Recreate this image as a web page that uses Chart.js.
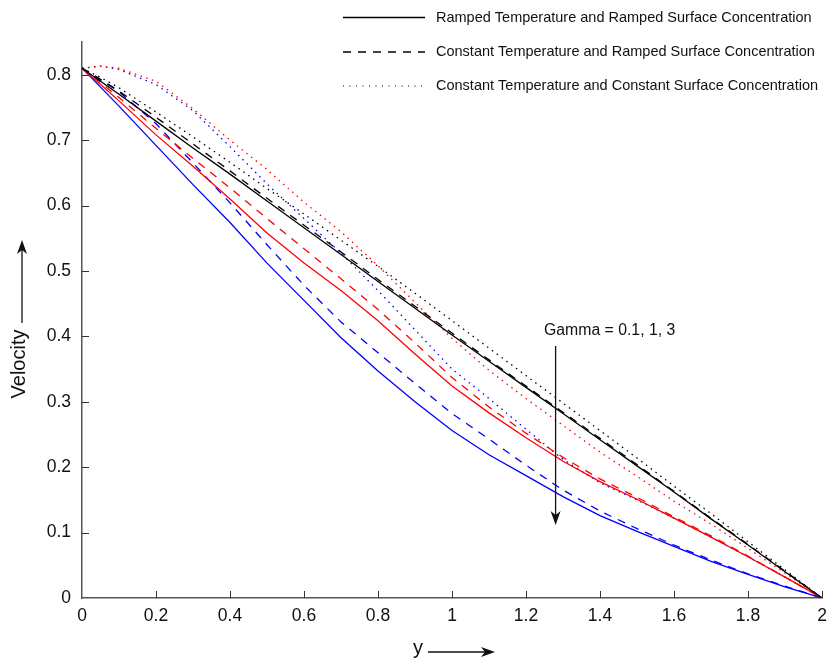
<!DOCTYPE html>
<html>
<head>
<meta charset="utf-8">
<script src="https://cdn.jsdelivr.net/npm/chart.js@4"></script>
<style>
  html, body { margin: 0; padding: 0; background: #fff; }
  #wrap { width: 831px; height: 660px; }
</style>
</head>
<body>
<div id="wrap"><canvas id="velChart" width="831" height="660"></canvas></div>
<script>
// distance y
const yDist = [0, 0.05, 0.1, 0.2, 0.3, 0.4, 0.5, 0.6, 0.7, 0.8, 0.9, 1.0,
  1.1, 1.2, 1.3, 1.4, 1.5, 1.6, 1.7, 1.8, 1.9, 2.0];

// Ramped temperature, ramped surface concentration (solid)
const rampRamp_g01 = [0.81, 0.790, 0.770, 0.729, 0.688, 0.648, 0.607, 0.566, 0.525, 0.484, 0.443, 0.402,
  0.362, 0.322, 0.282, 0.242, 0.202, 0.162, 0.121, 0.081, 0.040, 0];
const rampRamp_g1 = [0.81, 0.785, 0.760, 0.708, 0.660, 0.610, 0.558, 0.512, 0.470, 0.424, 0.373, 0.324,
  0.283, 0.245, 0.209, 0.178, 0.151, 0.122, 0.093, 0.063, 0.032, 0];
const rampRamp_g3 = [0.81, 0.781, 0.752, 0.692, 0.632, 0.574, 0.512, 0.455, 0.398, 0.347, 0.300, 0.256,
  0.219, 0.187, 0.155, 0.126, 0.102, 0.079, 0.056, 0.036, 0.017, 0];

// Constant temperature, ramped surface concentration (dashed)
const constRamp_g01 = [0.81, 0.793, 0.775, 0.735, 0.694, 0.653, 0.611, 0.570, 0.529, 0.487, 0.446, 0.405,
  0.364, 0.324, 0.284, 0.244, 0.204, 0.163, 0.122, 0.082, 0.041, 0];
const constRamp_g1 = [0.81, 0.788, 0.765, 0.718, 0.672, 0.627, 0.580, 0.534, 0.488, 0.441, 0.390, 0.337,
  0.292, 0.252, 0.215, 0.182, 0.154, 0.124, 0.095, 0.064, 0.032, 0];
const constRamp_g3 = [0.81, 0.792, 0.774, 0.725, 0.665, 0.604, 0.540, 0.478, 0.422, 0.375, 0.328, 0.282,
  0.243, 0.203, 0.165, 0.133, 0.106, 0.081, 0.058, 0.037, 0.018, 0];

// Constant temperature, constant surface concentration (dotted)
const constConst_g01 = [0.81, 0.796, 0.780, 0.743, 0.705, 0.666, 0.626, 0.587, 0.547, 0.507, 0.466, 0.424,
  0.382, 0.340, 0.298, 0.256, 0.214, 0.171, 0.129, 0.086, 0.043, 0];
const constConst_g1 = [0.81, 0.813, 0.810, 0.790, 0.748, 0.700, 0.655, 0.605, 0.560, 0.508, 0.452, 0.397,
  0.348, 0.305, 0.264, 0.223, 0.186, 0.148, 0.113, 0.076, 0.038, 0];
const constConst_g3 = [0.81, 0.813, 0.808, 0.785, 0.745, 0.690, 0.633, 0.580, 0.527, 0.470, 0.410, 0.350,
  0.305, 0.258, 0.212, 0.176, 0.150, 0.122, 0.093, 0.063, 0.032, 0];

const caseNames = [
  "Ramped Temperature and Ramped Surface Concentration",
  "Constant Temperature and Ramped Surface Concentration",
  "Constant Temperature and Constant Surface Concentration"
];
const gammaText = "Gamma = 0.1, 1, 3";

const FONT = "'Liberation Sans', Arial, sans-serif";
const gammaColors = ["#000000", "#ff0000", "#0000ff"];
const caseDash = [[], [8, 7], [1.5, 4.5]];
const caseSeries = [
  [rampRamp_g01, rampRamp_g1, rampRamp_g3],
  [constRamp_g01, constRamp_g1, constRamp_g3],
  [constConst_g01, constConst_g1, constConst_g3]
];

const datasets = [];
caseSeries.forEach((group, c) => {
  group.forEach((vals, g) => {
    datasets.push({
      label: caseNames[c] + " " + g,
      data: vals.map((v, i) => ({ x: yDist[i], y: v })),
      borderColor: gammaColors[g],
      borderDash: caseDash[c],
      borderWidth: 1.3,
      pointRadius: 0,
      fill: false,
      tension: 0
    });
  });
});

function arrowHead(ctx, x, y, dir) {
  ctx.beginPath();
  if (dir === "down") {
    ctx.moveTo(x, y); ctx.lineTo(x - 5, y - 14); ctx.lineTo(x, y - 10); ctx.lineTo(x + 5, y - 14);
  } else if (dir === "up") {
    ctx.moveTo(x, y); ctx.lineTo(x - 5, y + 14); ctx.lineTo(x, y + 10); ctx.lineTo(x + 5, y + 14);
  } else {
    ctx.moveTo(x, y); ctx.lineTo(x - 14, y - 5); ctx.lineTo(x - 10, y); ctx.lineTo(x - 14, y + 5);
  }
  ctx.closePath();
  ctx.fill();
}

const decorations = {
  id: "decorations",
  afterDraw(chart) {
    const { ctx, chartArea, scales } = chart;
    const xs = scales.x, ys = scales.y;
    ctx.save();

    // inward ticks
    ctx.strokeStyle = "#333";
    ctx.lineWidth = 1;
    ys.ticks.forEach(t => {
      if (t.value === 0) return;
      const py = Math.round(ys.getPixelForValue(t.value)) + 0.5;
      ctx.beginPath(); ctx.moveTo(chartArea.left, py); ctx.lineTo(chartArea.left + 7, py); ctx.stroke();
    });
    xs.ticks.forEach(t => {
      if (t.value === 0) return;
      const px = Math.round(xs.getPixelForValue(t.value)) + 0.5;
      ctx.beginPath(); ctx.moveTo(px, chartArea.bottom); ctx.lineTo(px, chartArea.bottom - 7); ctx.stroke();
    });

    // legend (black entries only)
    ctx.font = "14.5px " + FONT;
    ctx.textBaseline = "middle";
    ctx.textAlign = "left";
    const rows = [17.5, 52, 86];
    caseNames.forEach((name, i) => {
      ctx.strokeStyle = "#000";
      ctx.lineWidth = i === 2 ? 1 : 1.3;
      ctx.setLineDash(i === 2 ? [1, 5.5] : caseDash[i]);
      ctx.beginPath(); ctx.moveTo(343, rows[i]); ctx.lineTo(425, rows[i]); ctx.stroke();
      ctx.setLineDash([]);
      ctx.fillStyle = "#111";
      ctx.fillText(name, 436, rows[i]);
    });

    // gamma annotation
    ctx.fillStyle = "#111";
    ctx.font = "15.8px " + FONT;
    ctx.textBaseline = "alphabetic";
    ctx.fillText(gammaText, 544, 335);
    const ax = xs.getPixelForValue(1.28);
    ctx.strokeStyle = "#111";
    ctx.lineWidth = 1.3;
    ctx.beginPath(); ctx.moveTo(ax, 346); ctx.lineTo(ax, 515); ctx.stroke();
    arrowHead(ctx, ax, 525, "down");

    // axis labels with arrows
    ctx.font = "20px " + FONT;
    ctx.textAlign = "center";
    ctx.textBaseline = "middle";
    ctx.save();
    ctx.translate(19, 364);
    ctx.rotate(-Math.PI / 2);
    ctx.fillText("Velocity", 0, 0);
    ctx.restore();
    ctx.beginPath(); ctx.moveTo(22, 323); ctx.lineTo(22, 250); ctx.stroke();
    arrowHead(ctx, 22, 240, "up");

    ctx.fillText("y", 418, 648);
    ctx.beginPath(); ctx.moveTo(428, 652); ctx.lineTo(485, 652); ctx.stroke();
    arrowHead(ctx, 495, 652, "right");

    ctx.restore();
  }
};

const tickFont = { family: FONT, size: 17.5 };
const fmt = v => String(Math.round(v * 10) / 10);

new Chart(document.getElementById("velChart").getContext("2d"), {
  type: "line",
  data: { datasets: datasets },
  options: {
    responsive: false,
    animation: false,
    layout: { padding: { top: 42, right: 9, left: 0, bottom: 0 } },
    plugins: { legend: { display: false }, tooltip: { enabled: false } },
    scales: {
      x: {
        type: "linear",
        min: 0, max: 2,
        ticks: { stepSize: 0.2, includeBounds: false, color: "#111", font: tickFont, padding: 8, maxRotation: 0, callback: fmt },
        grid: { display: false, drawTicks: false },
        border: { display: true, color: "#555", width: 1.5 },
        afterFit: s => { s.height = 62; s.paddingLeft = 0; s.paddingRight = 0; }
      },
      y: {
        type: "linear",
        min: 0, max: 0.85,
        ticks: { stepSize: 0.1, includeBounds: false, color: "#111", font: tickFont, padding: 11, callback: fmt },
        grid: { display: false, drawTicks: false },
        border: { display: true, color: "#555", width: 1.5 },
        afterFit: s => { s.width = 82; s.paddingTop = 0; s.paddingBottom = 0; }
      }
    }
  },
  plugins: [decorations]
});
</script>
</body>
</html>
